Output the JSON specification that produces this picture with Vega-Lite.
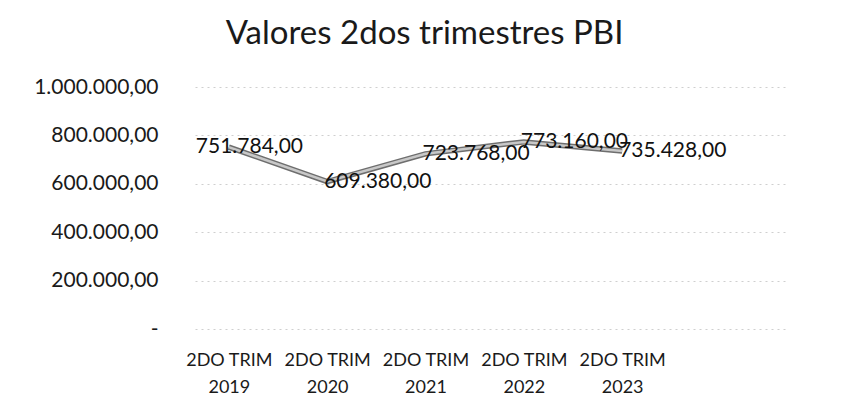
{
  "$schema": "https://vega.github.io/schema/vega-lite/v6.json",
  "width": 590,
  "height": 242,
  "padding": {"left": 33, "top": 18, "right": 5, "bottom": 5},
  "background": "white",
  "config": {
    "locale": {"number": {"decimal": ",", "thousands": ".", "grouping": [3], "currency": ["", ""]}},
    "view": {"stroke": null},
    "font": "Lato"
  },
  "title": {
    "text": "Valores 2dos trimestres PBI",
    "fontSize": 33,
    "font": "Lato",
    "fontWeight": "normal",
    "color": "#1a1a1a",
    "anchor": "start",
    "dx": 192,
    "offset": 25
  },
  "data": {
    "values": [
      {"periodo": "2DO TRIM 2019", "valor": 751784},
      {"periodo": "2DO TRIM 2020", "valor": 609380},
      {"periodo": "2DO TRIM 2021", "valor": 723768},
      {"periodo": "2DO TRIM 2022", "valor": 773160},
      {"periodo": "2DO TRIM 2023", "valor": 735428}
    ]
  },
  "encoding": {
    "x": {
      "field": "periodo",
      "type": "ordinal",
      "sort": null,
      "scale": {"type": "point", "padding": 1.05, "align": 0.172},
      "axis": {
        "title": null,
        "domain": false,
        "ticks": false,
        "grid": false,
        "labelAngle": 0,
        "labelFontSize": 18,
        "labelColor": "#1a1a1a",
        "labelPadding": 22,
        "labelLineHeight": 27,
        "labelBaseline": "top",
        "labelOverlap": false,
        "labelExpr": "['2DO TRIM', slice(datum.label, 9)]"
      }
    },
    "y": {
      "field": "valor",
      "type": "quantitative",
      "scale": {"domain": [0, 1000000]},
      "axis": {
        "title": null,
        "domain": false,
        "ticks": false,
        "values": [0, 200000, 400000, 600000, 800000, 1000000],
        "labelOverlap": false,
        "labelFontSize": 21,
        "labelColor": "#1a1a1a",
        "labelPadding": 37,
        "labelExpr": "datum.value == 0 ? '-' : format(datum.value, ',.2f')",
        "gridColor": "#cfcfcf",
        "gridDash": [2, 4],
        "gridWidth": 1
      }
    }
  },
  "layer": [
    {"mark": {"type": "line", "color": "#6e6e6e", "strokeWidth": 5.5}},
    {"mark": {"type": "line", "color": "#c8c8c8", "strokeWidth": 2.5}},
    {
      "mark": {
        "type": "text",
        "align": "left",
        "baseline": "middle",
        "fontSize": 21,
        "color": "#111111",
        "dx": {"expr": "datum.periodo == '2DO TRIM 2019' ? -33 : -3"}
      },
      "encoding": {
        "text": {"field": "valor", "type": "quantitative", "format": ",.2f"}
      }
    }
  ]
}
